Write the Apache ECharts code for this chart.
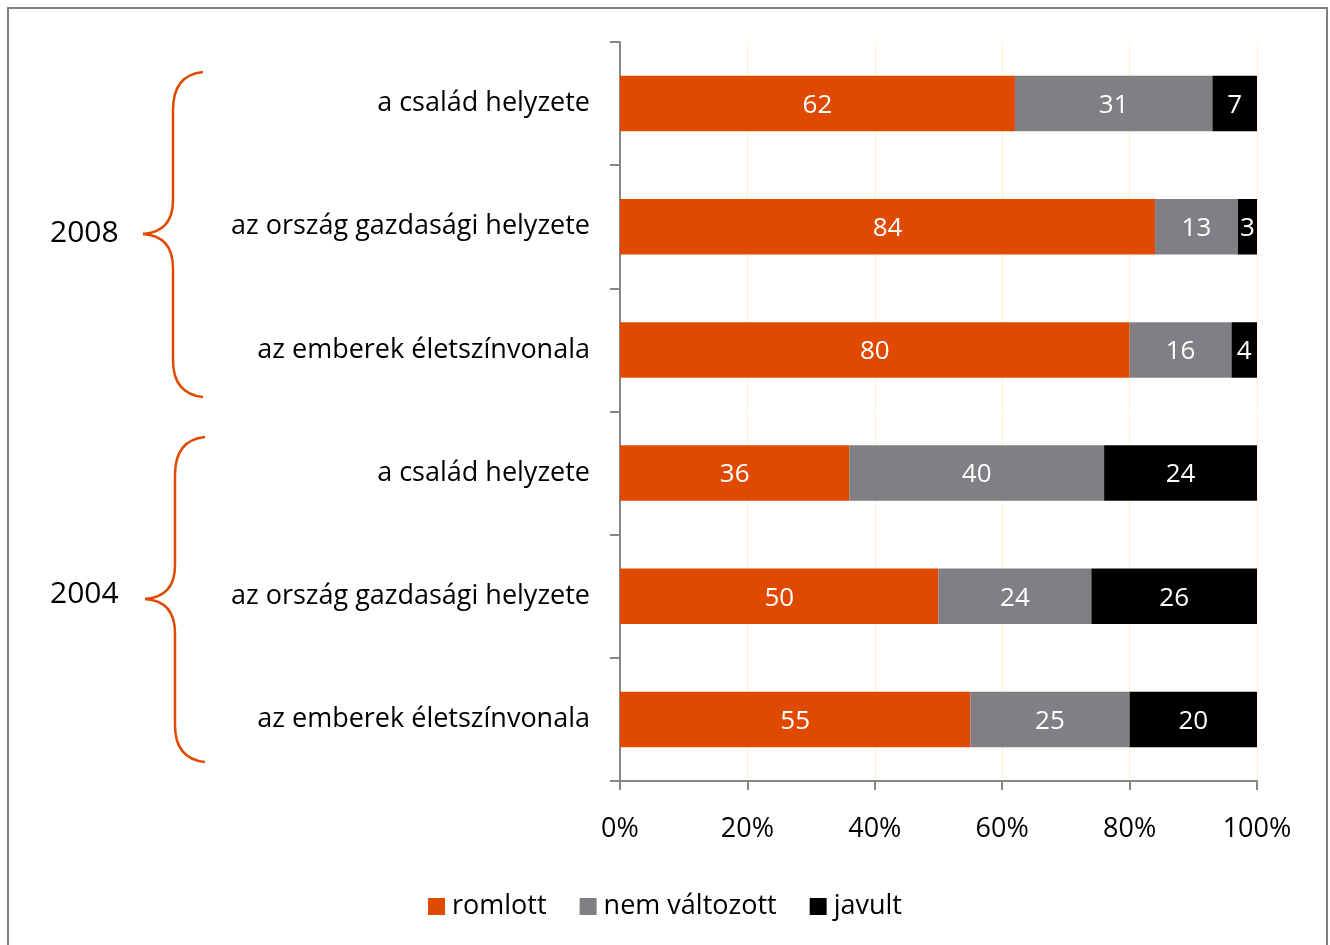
<!DOCTYPE html>
<html>
<head>
<meta charset="utf-8">
<script src="https://cdn.jsdelivr.net/npm/echarts@6/dist/echarts.min.js"></script>
<style>
html,body{margin:0;padding:0;background:#fff;}
#chart{width:1330px;height:945px;}
</style>
</head>
<body>
<div id="chart"></div>
<script>
const categories = [
  'a család helyzete',
  'az ország gazdasági helyzete',
  'az emberek életszínvonala',
  'a család helyzete',
  'az ország gazdasági helyzete',
  'az emberek életszínvonala'
];
const romlott = [62, 84, 80, 36, 50, 55];
const nemValtozott = [31, 13, 16, 40, 24, 25];
const javult = [7, 3, 4, 24, 26, 20];
const xTicks = ['0%', '20%', '40%', '60%', '80%', '100%'];
const groups = ['2008', '2004'];

const FONT = 'Open Sans';
const chart = echarts.init(document.getElementById('chart'));

function bar(name, data, color) {
  return {
    name: name, type: 'bar', stack: 'total', data: data,
    barWidth: '45%',
    itemStyle: { color: color },
    label: { show: true, position: 'inside', color: '#fff', fontSize: 26, fontFamily: FONT, offset: [0, 2] }
  };
}

const braceStyle = { fill: 'none', stroke: '#E04A00', lineWidth: 2.5 };
function brace(dx, dy) {
  const X = function (v) { return v + dx; };
  const Y = function (v) { return v + dy; };
  return [
    { type: 'bezierCurve', silent: true, style: braceStyle,
      shape: { x1: X(203), y1: Y(72), cpx1: X(173), cpy1: Y(75), x2: X(173), y2: Y(110) } },
    { type: 'line', silent: true, style: braceStyle,
      shape: { x1: X(173), y1: Y(110), x2: X(173), y2: Y(200) } },
    { type: 'bezierCurve', silent: true, style: braceStyle,
      shape: { x1: X(173), y1: Y(200), cpx1: X(173), cpy1: Y(232), x2: X(143), y2: Y(234) } },
    { type: 'bezierCurve', silent: true, style: braceStyle,
      shape: { x1: X(143), y1: Y(234), cpx1: X(173), cpy1: Y(236), x2: X(173), y2: Y(268) } },
    { type: 'line', silent: true, style: braceStyle,
      shape: { x1: X(173), y1: Y(268), x2: X(173), y2: Y(360) } },
    { type: 'bezierCurve', silent: true, style: braceStyle,
      shape: { x1: X(173), y1: Y(360), cpx1: X(173), cpy1: Y(394), x2: X(203), y2: Y(397) } }
  ];
}

chart.setOption({
  animation: false,
  textStyle: { fontFamily: FONT },
  grid: { left: 620, right: 73, top: 42, bottom: 164, containLabel: false },
  xAxis: {
    type: 'value', min: 0, max: 100, interval: 20,
    axisLine: { show: true, lineStyle: { color: '#868686', width: 2 } },
    axisTick: { show: true, length: 9, lineStyle: { color: '#868686', width: 2 } },
    axisLabel: {
      fontSize: 27, color: '#000', margin: 35, fontFamily: FONT,
      formatter: function (v) { return xTicks[Math.round(v / 20)]; }
    },
    splitLine: { show: true, lineStyle: { color: '#FFF2C4', width: 1 } }
  },
  yAxis: {
    type: 'category', data: categories, inverse: true,
    axisLine: { show: true, lineStyle: { color: '#868686', width: 2 } },
    axisTick: { show: true, length: 10, lineStyle: { color: '#868686', width: 2 } },
    axisLabel: { fontSize: 27, color: '#000', margin: 30, fontFamily: FONT, padding: [4, 0, 0, 0] }
  },
  legend: {
    bottom: 20, left: 'center', itemWidth: 17, itemHeight: 17, itemGap: 33,
    icon: 'rect',
    textStyle: { fontSize: 27, color: '#000', fontFamily: FONT, padding: [0, 0, 0, 2] },
    data: ['romlott', 'nem változott', 'javult']
  },
  series: [
    bar('romlott', romlott, '#E04A00'),
    bar('nem változott', nemValtozott, '#807F83'),
    bar('javult', javult, '#000000')
  ],
  graphic: [
    { type: 'rect', shape: { x: 8, y: 8, width: 1319, height: 1000 },
      style: { fill: 'none', stroke: '#808080', lineWidth: 2 }, silent: true },
    { type: 'text', left: 50, top: 218,
      style: { text: groups[0], fontSize: 30, fill: '#000', fontFamily: FONT } },
    { type: 'text', left: 50, top: 579,
      style: { text: groups[1], fontSize: 30, fill: '#000', fontFamily: FONT } }
  ].concat(brace(0, 0)).concat(brace(2, 365))
});
</script>
</body>
</html>
